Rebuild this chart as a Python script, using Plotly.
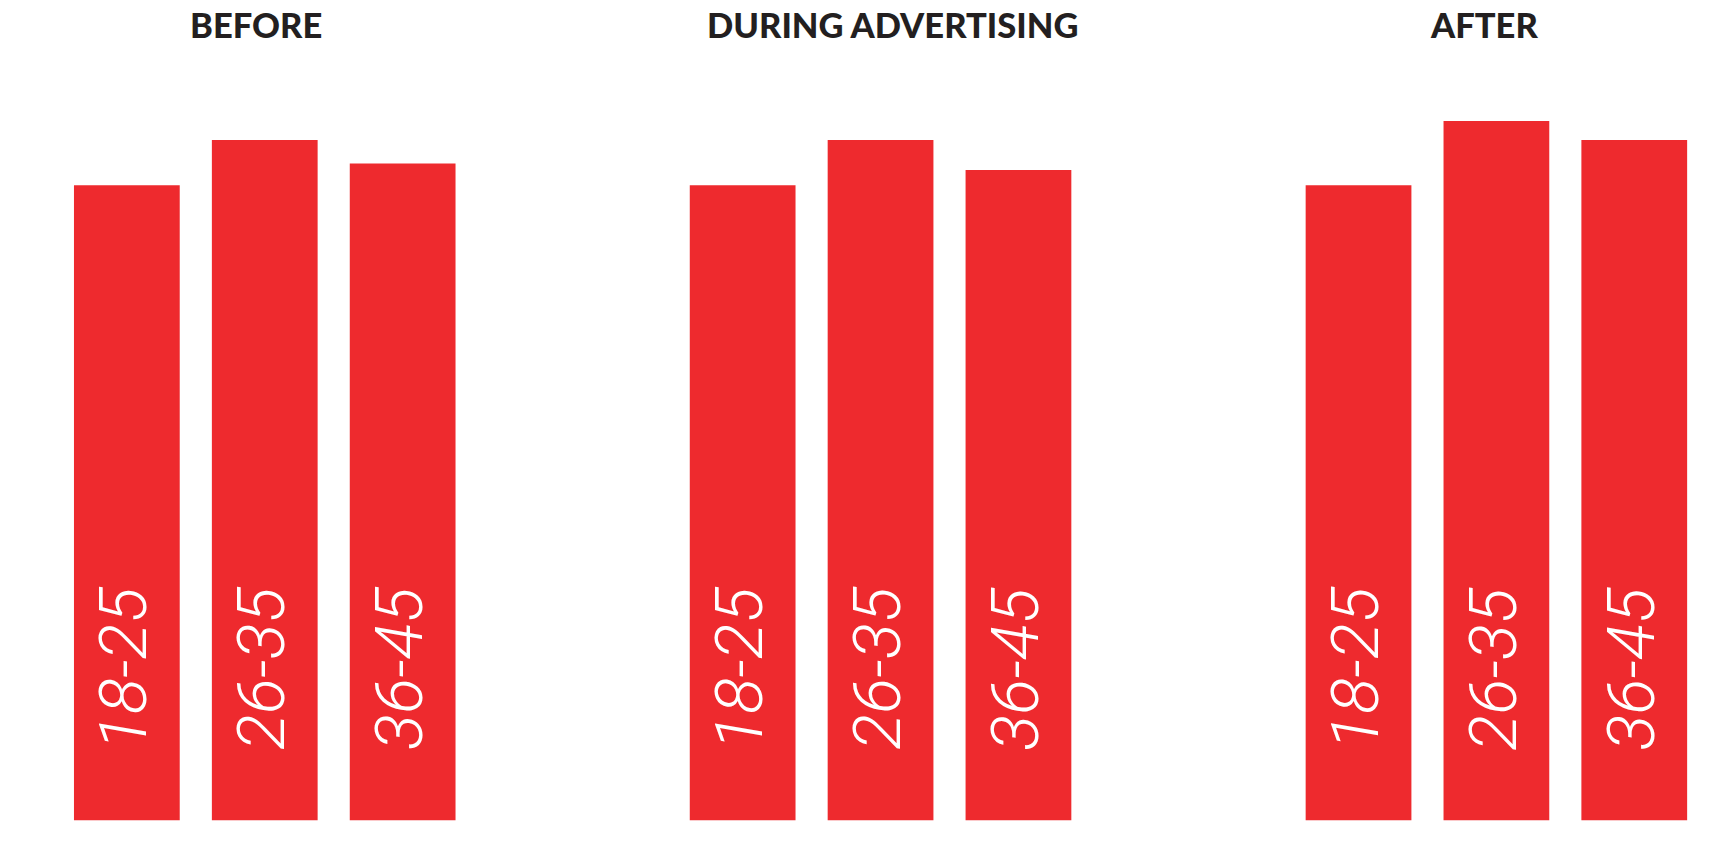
import plotly.graph_objects as go

# ---- data ----
panels = ["BEFORE", "DURING ADVERTISING", "AFTER"]
age_groups = ["18-25", "26-35", "36-45"]
before_vals = [70.0, 75.0, 72.4]
during_vals = [70.0, 75.0, 71.7]
after_vals = [70.0, 77.1, 75.0]
series = [before_vals, during_vals, after_vals]

# ---- layout geometry (pixels) ----
W, H = 1729, 846
bar_color = "#EE2A2E"
title_color = "#231F20"
x_domains_px = [(57.9, 471.6), (673.7, 1087.4), (1289.6, 1703.2)]
title_centers_px = [256.4, 892.0, 1484.0]
bottom_px = 820.5
px_per_unit = 680.5 / 75.0
y_top = bottom_px / px_per_unit

fig = go.Figure()
for i, vals in enumerate(series):
    xa = "x" if i == 0 else f"x{i+1}"
    fig.add_trace(go.Bar(
        x=age_groups, y=vals, xaxis=xa, yaxis="y",
        marker=dict(color=bar_color, line=dict(width=0)),
        hoverinfo="skip", showlegend=False,
    ))
    for g in age_groups:
        fig.add_annotation(
            x=g, y=0, xref=xa, yref="y",
            text=g, showarrow=False, textangle=-90,
            xanchor="center", yanchor="bottom", yshift=68, xshift=-4,
            font=dict(family="Roboto", size=67, color="white", weight=300, style="italic"),
        )
    fig.add_annotation(
        x=title_centers_px[i] / W, y=1 - 25 / H, xref="paper", yref="paper",
        text=panels[i], showarrow=False, xanchor="center", yanchor="middle",
        font=dict(family="Lato", size=34.5, color=title_color, weight=900),
    )

layout_axes = {}
for i, (a, b) in enumerate(x_domains_px):
    key = "xaxis" if i == 0 else f"xaxis{i+1}"
    layout_axes[key] = dict(
        domain=[a / W, b / W], range=[-0.5, 2.5], type="category",
        showticklabels=False, showgrid=False, zeroline=False, showline=False,
        anchor="y", fixedrange=True,
    )

fig.update_layout(
    width=W, height=H,
    margin=dict(l=0, r=0, t=0, b=0),
    paper_bgcolor="white", plot_bgcolor="white",
    bargap=0.233,
    yaxis=dict(domain=[(H - bottom_px) / H, 1], range=[0, y_top],
               showticklabels=False, showgrid=False, zeroline=False, showline=False,
               fixedrange=True),
    **layout_axes,
)

fig.write_html("out.html", config={"displayModeBar": False})
